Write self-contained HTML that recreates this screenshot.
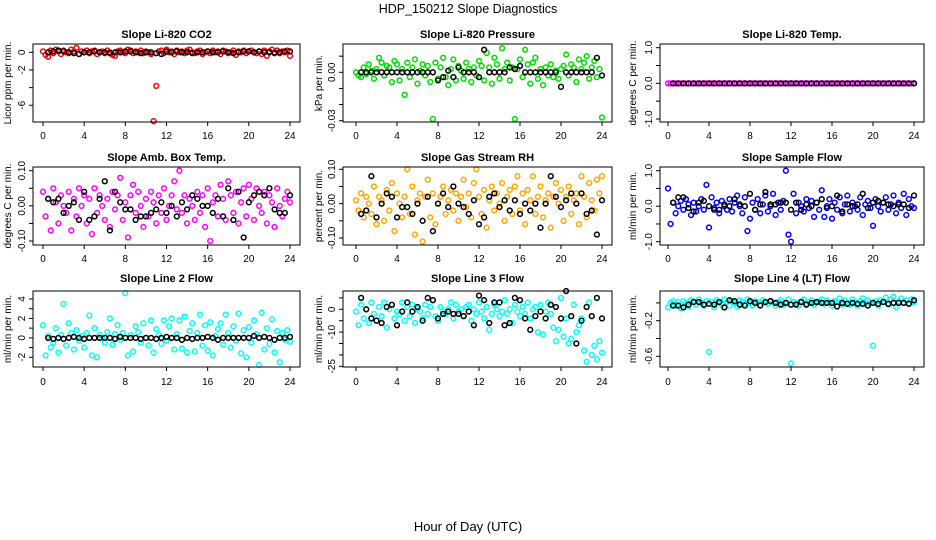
<!DOCTYPE html>
<html><head><meta charset="utf-8"><style>
body{margin:0;background:#fff;}
svg{display:block;font-family:"Liberation Sans",sans-serif;}
</style></head><body>
<svg id="c" width="936" height="540" viewBox="0 0 936 540">
<text x="468" y="13" text-anchor="middle" font-size="12.5">HDP_150212  Slope Diagnostics</text>
<text x="468" y="531" text-anchor="middle" font-size="13">Hour of Day (UTC)</text>
</svg>
<script>
const co2C=[0.1,-0.3,-0.5,0.2,-0.1,0.3,0.1,-0.2,0.2,0.0,-0.1,0.3,0.1,0.5,-0.2,0.1,0.0,0.2,-0.1,0.1,0.2,-0.2,0.0,0.1,-0.1,0.2,0.0,-0.3,-0.4,0.1,0.2,0.0,-0.1,0.3,0.2,-0.1,0.1,0.0,0.2,-0.1,0.1,0.0,-0.2,-7.8,-3.8,0.1,0.2,-0.1,0.3,0.0,0.1,-0.2,0.2,0.0,0.1,-0.1,0.2,0.3,0.0,-0.1,0.1,0.2,-0.2,0.0,0.1,-0.1,0.2,0.0,0.1,-0.2,0.2,0.1,-0.1,0.0,0.2,-0.3,0.1,0.0,0.2,-0.1,0.1,0.2,0.0,-0.1,0.1,-0.2,0.2,-0.4,0.1,0.3,0.0,0.2,-0.1,0.1,0.0,0.2,-0.4];
const co2B=[0.0,0.1,0.2,0.1,0.0,-0.1,-0.2,0.0,0.0,0.1,0.0,0.0,-0.1,0.0,0.0,0.1,0.1,0.0,-0.1,0.0,0.0,-0.1,-0.2,0.1,0.0,0.1,0.0,0.0,-0.1,0.0,0.0,0.1,0.0,0.0,0.1,0.0,-0.1,0.0,0.1,0.1,0.0,0.1,0.0,0.0,-0.1,0.0,0.1,0.1];
const presC=[0,-0.002,-0.003,0.003,-0.001,0.005,0.001,-0.004,0.002,0.009,0.006,-0.002,0.004,0.003,-0.006,0.007,0.005,-0.005,0.002,-0.014,0.006,-0.003,0.003,0.008,-0.007,0.001,0.005,-0.002,0.004,-0.006,-0.029,0.006,-0.004,0.003,0.009,-0.003,-0.008,0.002,0.008,-0.005,0.004,0.001,-0.004,0.006,0.002,-0.006,0.003,-0.002,0.007,0.004,-0.005,0.012,0.003,-0.007,0.009,0.005,-0.004,0.015,0.002,0.006,-0.005,0.003,-0.029,0.002,0.008,-0.003,0.014,0.005,-0.007,0.006,0.009,-0.004,0.002,-0.008,0.003,-0.002,0.005,-0.003,0.001,-0.004,0.002,0.004,0.011,-0.002,0.005,0.003,-0.006,0.008,0.002,0.006,0.010,-0.004,0.003,0.007,-0.003,0.002,-0.028];
const presB=[0,0,0,0,0,0,0,0,0,0,0,0,0,0,0,-0.005,-0.003,0.001,-0.003,0.003,0,0,0,-0.003,0.014,0,0,0,0,0.003,0.002,0.004,0,0,0,0,0,0,0,-0.009,0,0,0,0,0,0,0.009,-0.002];
const tempC=[0,0,0,0,0,0,0,0,0,0,0,0,0,0,0,0,0,0,0,0,0,0,0,0,0,0,0,0,0,0,0,0,0,0,0,0,0,0,0,0,0,0,0,0,0,0,0,0,0,0,0,0,0,0,0,0,0,0,0,0,0,0,0,0,0,0,0,0,0,0,0,0,0,0,0,0,0,0,0,0,0,0,0,0,0,0,0,0,0,0,0,0,0,0,0,0,0];
const tempB=[0,0,0,0,0,0,0,0,0,0,0,0,0,0,0,0,0,0,0,0,0,0,0,0,0,0,0,0,0,0,0,0,0,0,0,0,0,0,0,0,0,0,0,0,0,0,0,0];
const ambC=[0.04,-0.03,0.02,-0.07,0.05,0.01,-0.05,0.03,0.0,-0.02,0.04,-0.07,0.02,-0.03,0.05,0.0,0.03,-0.05,0.02,-0.08,0.05,-0.02,0.03,0.0,-0.04,0.02,-0.06,0.04,-0.01,0.03,0.08,-0.04,0.01,-0.09,0.03,0.06,-0.02,0.04,0.0,-0.06,0.02,-0.03,0.04,0.01,-0.05,0.03,-0.02,0.05,-0.04,0.0,0.03,0.07,-0.01,0.1,-0.02,0.03,-0.05,0.02,0.0,-0.04,0.04,-0.02,0.03,-0.06,0.05,-0.1,0.01,0.03,-0.03,0.06,0.02,-0.04,0.07,0.03,-0.02,0.04,-0.05,0.01,0.05,-0.03,0.06,0.02,-0.04,0.05,0.0,-0.02,0.04,-0.05,0.03,0.01,-0.06,0.05,0.0,-0.03,0.02,0.04,0.01];
const ambB=[0.02,0.01,0.02,-0.02,0.0,0.01,-0.04,0.04,-0.04,-0.03,0.02,0.07,-0.07,0.04,0.01,-0.01,-0.01,-0.04,-0.03,-0.03,-0.02,-0.01,0.01,-0.02,0.0,-0.03,0.01,-0.01,0.03,0.02,0.0,0.0,-0.02,0.02,-0.03,0.05,-0.04,0.04,-0.09,0.01,0.03,0.04,0.03,0.05,-0.01,-0.02,-0.02,0.03];
const rhC=[0.01,-0.02,0.03,-0.04,0.02,0.0,-0.03,0.05,-0.06,0.02,0.01,-0.05,0.04,-0.02,0.06,-0.08,0.03,0.0,-0.04,0.02,0.1,-0.03,0.05,-0.09,0.01,0.03,-0.11,0.02,0.07,-0.04,0.03,-0.06,0.0,0.02,0.05,-0.03,0.01,0.04,-0.02,0.03,-0.05,0.02,0.07,-0.01,0.03,-0.04,0.06,0.1,0.02,-0.03,0.04,-0.07,0.01,0.05,-0.02,0.03,0.0,0.06,-0.05,0.02,0.04,-0.03,0.05,0.08,-0.02,0.03,-0.06,0.04,0.01,0.08,-0.03,0.02,0.05,-0.04,0.01,0.03,-0.07,0.02,0.06,0.0,0.04,-0.05,0.02,0.05,-0.03,0.01,0.03,-0.06,0.08,0.02,-0.04,0.06,0.01,-0.02,0.07,0.03,0.08];
const rhB=[-0.03,-0.02,0.08,-0.04,0.0,0.03,0.02,-0.04,-0.01,-0.01,-0.03,0.0,-0.05,0.02,-0.08,0.0,0.03,-0.01,0.05,0.0,-0.01,-0.03,0.01,-0.06,-0.04,0.02,0.03,-0.01,0.01,-0.02,0.01,-0.03,0.0,-0.02,0.0,-0.07,0.0,0.08,0.02,-0.01,0.01,0.03,0.0,0.03,-0.03,-0.02,-0.09,0.01];
const sfC=[0.5,-0.5,0.1,-0.2,0.0,0.15,-0.1,0.2,0.05,-0.25,0.1,-0.15,0.0,0.2,-0.1,0.6,-0.6,0.25,-0.05,0.1,-0.2,0.15,0.0,-0.1,0.2,-0.15,0.1,0.3,0.0,-0.2,0.25,-0.7,-0.35,0.1,-0.1,0.2,-0.2,0.05,0.3,-0.15,0.0,0.35,-0.25,0.1,-0.1,0.15,1.0,-0.8,-1.0,0.35,-0.2,0.1,0.0,-0.15,0.2,-0.05,0.15,-0.3,0.1,-0.1,0.45,-0.3,0.0,0.2,-0.35,0.1,-0.1,0.25,-0.2,0.05,0.3,-0.15,0.1,0.0,-0.1,0.25,-0.25,0.05,0.15,-0.05,-0.55,0.2,0.0,-0.15,0.1,0.25,-0.1,0.05,0.3,-0.2,0.1,-0.05,0.35,-0.25,0.2,0.0,-0.05];
const sfB=[0.1,0.25,0.25,-0.05,-0.15,0.1,0.15,0.0,-0.1,-0.1,0.05,0.0,0.2,0.05,0.0,0.35,-0.1,0.05,0.4,0.05,0.05,0.1,0.1,-0.1,0.1,-0.1,0.05,0.0,0.1,0.2,-0.05,0.0,0.3,-0.15,0.05,0.0,0.05,0.35,-0.05,0.1,0.15,0.1,0.05,0.0,0.05,0.05,-0.05,0.3];
const l2C=[1.3,-1.8,0.2,-1.0,-0.5,1.0,-1.5,0.3,3.5,-0.8,1.5,0.5,-1.2,0.8,-0.3,0.2,-1.0,0.5,2.3,-1.8,1.0,-2.0,0.3,0.0,-0.5,0.6,2.0,-0.7,0.4,1.3,-0.2,0.5,4.6,-1.8,0.3,-1.4,1.2,0.6,-0.5,1.5,0.0,-0.8,1.8,-1.5,0.9,0.3,-0.6,1.8,-0.3,1.2,2.0,-1.2,0.4,1.8,-1.1,2.2,-1.5,0.7,1.5,-1.4,0.5,2.4,-0.8,1.3,-1.3,1.6,-1.8,0.2,0.9,1.5,-0.7,2.4,0.5,-1.0,1.2,-0.3,2.5,-1.6,0.8,-2.0,1.1,-0.5,1.8,0.4,-2.8,2.6,-1.2,1.0,-0.6,1.9,-1.5,0.7,-2.5,0.5,-0.2,0.8,-0.4];
const l2B=[0.0,-0.1,0.0,-0.1,0.0,0.1,0.0,-0.1,0.0,0.0,0.0,0.0,0.0,-0.1,0.1,0.0,0.0,0.0,-0.1,0.0,0.0,-0.1,0.0,0.1,0.0,0.0,-0.2,0.0,-0.1,0.0,0.0,0.1,0.0,-0.2,0.0,0.0,0.0,0.0,0.0,0.0,0.2,0.0,0.1,0.0,-0.2,0.0,0.0,0.1];
const l3C=[-1,-7,2,-4,0,-6,3,-2,-5,1,-3,3,-8,0,2,-4,-1,-2,3,-5,1,-3,2,-6,0,-1,-4,2,-2,1,4,-3,-5,1,-1,-2,0,3,-4,2,-1,0,-3,1,2,-5,0,-2,3,-1,-4,1,-9,-2,2,0,-3,-1,4,-2,0,-6,2,-1,-3,1,-2,3,-4,0,1,-10,2,-11,-1,3,-2,-8,-14,-9,5,-12,-4,-15,-13,2,-10,-7,-4,-18,-23,3,-20,-16,-22,-14,-19];
const l3B=[5,0,-4,-5,-6,1,2,-7,-1,3,-1,1,-5,5,4,-4,-2,-1,-2,-2,-3,-1,-7,6,4,-6,3,3,-7,-6,5,4,-4,-9,-3,-1,-4,2,1,-4,8,-3,-15,-5,1,-3,5,-4];
const l4C=[-0.05,0.0,0.02,-0.03,0.01,-0.06,0.02,0.0,-0.04,0.03,0.01,-0.02,0.04,0.0,-0.03,0.02,-0.55,0.01,-0.05,0.03,0.0,-0.02,0.04,0.01,-0.03,0.02,0.0,-0.04,0.03,0.01,-0.01,0.04,0.0,-0.03,0.02,0.01,-0.02,0.03,0.0,-0.01,0.02,0.0,-0.03,0.01,0.03,-0.02,0.0,0.04,-0.68,0.01,0.0,-0.03,0.02,0.04,-0.01,0.01,0.03,-0.02,0.0,0.02,0.04,-0.01,0.03,0.0,-0.03,0.02,0.01,0.05,-0.02,0.03,0.0,-0.02,0.04,0.01,-0.03,0.02,0.05,-0.01,0.03,0.0,-0.48,0.02,-0.03,0.03,0.01,0.06,-0.02,0.04,0.07,-0.05,0.02,0.05,0.0,0.03,-0.01,0.04,0.01];
const l4B=[-0.03,-0.03,-0.05,-0.02,0.01,0.01,-0.02,-0.01,-0.02,0.01,-0.05,0.03,0.02,-0.02,-0.03,0.02,0.0,-0.03,0.01,0.02,0.0,-0.02,0.0,-0.02,-0.02,0.01,-0.02,0.0,0.01,0.0,0.0,0.0,-0.04,0.0,-0.01,0.0,-0.01,-0.01,-0.03,0.0,-0.01,0.01,-0.01,0.0,0.0,0.0,-0.01,0.03];
const xTicks=[0,4,8,12,16,20,24];

const NS='http://www.w3.org/2000/svg';
const svg=document.getElementById('c');
function mk(tag,attrs,parent){const e=document.createElementNS(NS,tag);for(const k in attrs)e.setAttribute(k,attrs[k]);(parent||svg).appendChild(e);return e;}

const cols=[{l:33,r:300,x0:43,x1:290,yl:11},{l:343,r:612,x0:356,x1:602,yl:322},{l:660,r:924,x0:668,x1:914,yl:636}];
const rows=[{t:44,b:122,title:38,xl:139},{t:167,b:245,title:161,xl:262},{t:291,b:367,title:282,xl:385}];
const panels=[
 {name:'co2',title:'Slope Li-820 CO2',yl:'Licor ppm per min.',c:co2C,b:co2B,col:'#ff0000',v0:0,p0:52.3,v1:-6,p1:105.3,ticks:[0,-2,-4,-6],labels:['0','-2','','-6']},
 {name:'pressure',title:'Slope Li-820 Pressure',yl:'kPa per min.',c:presC,b:presB,col:'#00dd00',v0:0,p0:72.3,v1:-0.03,p1:120.7,ticks:[0.01,0,-0.01,-0.02,-0.03],labels:['','0.00','','','-0.03']},
 {name:'li820-temp',title:'Slope Li-820 Temp.',yl:'degrees C per min.',c:tempC,b:tempB,col:'#ff00ff',v0:1,p0:47.7,v1:-1,p1:119,ticks:[1,0.5,0,-0.5,-1],labels:['1.0','','0.0','','-1.0']},
 {name:'amb-box-temp',title:'Slope Amb. Box Temp.',yl:'degrees C per min.',c:ambC,b:ambB,col:'#ff00ff',v0:0.1,p0:170.7,v1:-0.1,p1:241,ticks:[0.1,0.05,0,-0.05,-0.1],labels:['0.10','','0.00','','-0.10']},
 {name:'gas-stream-rh',title:'Slope Gas Stream RH',yl:'percent per min.',c:rhC,b:rhB,col:'#ffa500',v0:0.1,p0:169.3,v1:-0.1,p1:238,ticks:[0.1,0.05,0,-0.05,-0.1],labels:['0.10','','0.00','','-0.10']},
 {name:'sample-flow',title:'Slope Sample Flow',yl:'ml/min per min.',c:sfC,b:sfB,col:'#0000ff',v0:1,p0:170.7,v1:-1,p1:241.7,ticks:[1,0.5,0,-0.5,-1],labels:['1.0','','0.0','','-1.0']},
 {name:'line2-flow',title:'Slope Line 2 Flow',yl:'ml/min per min.',c:l2C,b:l2B,col:'#00ffff',v0:4,p0:299,v1:-2,p1:357.3,ticks:[4,3,2,1,0,-1,-2],labels:['4','','2','','0','','-2']},
 {name:'line3-flow',title:'Slope Line 3 Flow',yl:'ml/min per min.',c:l3C,b:l3B,col:'#00ffff',v0:0,p0:309.3,v1:-25,p1:366.3,ticks:[5,0,-5,-10,-15,-20,-25],labels:['','0','','-10','','','-25']},
 {name:'line4-flow',title:'Slope Line 4 (LT) Flow',yl:'ml/min per min.',c:l4C,b:l4B,col:'#00ffff',v0:-0.2,p0:320.7,v1:-0.6,p1:356.3,ticks:[0,-0.2,-0.4,-0.6],labels:['','-0.2','','-0.6']}
];

panels.forEach((p,i)=>{
  const C=cols[i%3],R=rows[Math.floor(i/3)];
  const g=mk('g',{});
  
  
  const X=h=>C.x0+(h/24)*(C.x1-C.x0);
  const Y=v=>p.p0+(v-p.v0)*(p.p1-p.p0)/(p.v1-p.v0);
  const t=mk('text',{x:(C.l+C.r)/2,y:R.title,'text-anchor':'middle','font-size':'11','font-weight':'bold'},g);
  t.textContent=p.title;
  
  
  const pts=mk('g',{fill:'none','stroke-width':'1.5'},g);
  
  
  p.c.forEach((v,k)=>{
    const c=mk('circle',{cx:X(k*0.25),cy:Y(v),r:2.4,stroke:p.col},pts);
    
    
  });
  p.b.forEach((v,k)=>{
    const c=mk('circle',{cx:X((k+1)*0.5),cy:Y(v),r:2.4,stroke:'#000'},pts);
    
    
  });
  const box=mk('rect',{x:C.l,y:R.t,width:C.r-C.l,height:R.b-R.t,fill:'none',stroke:'#000','stroke-width':'1'},g);
  
  
  const xa=mk('g',{stroke:'#000','stroke-width':'1'},g);
  
  
  xTicks.forEach(h=>{
    mk('line',{x1:X(h),x2:X(h),y1:R.b,y2:R.b+4},xa);
    const tx=mk('text',{x:X(h),y:R.xl,'text-anchor':'middle','font-size':'10',stroke:'none',fill:'#000'},xa);tx.textContent=h;
  });
  const ya=mk('g',{stroke:'#000','stroke-width':'1'},g);
  
  
  const ax=C.l;
  p.ticks.forEach((v,k)=>{
    mk('line',{x1:ax-4,x2:ax,y1:Y(v),y2:Y(v)},ya);
    if(p.labels[k]){const tx=mk('text',{x:0,y:0,'text-anchor':'middle','font-size':'10',stroke:'none',fill:'#000',transform:`translate(${ax-8},${Y(v)}) rotate(-90)`},ya);tx.textContent=p.labels[k];}
  });
  const yt=mk('text',{x:0,y:0,'text-anchor':'middle','font-size':'10',transform:`translate(${C.yl},${(R.t+R.b)/2}) rotate(-90)`},g);
  yt.textContent=p.yl;
  
  
});
</script>
</body></html>
